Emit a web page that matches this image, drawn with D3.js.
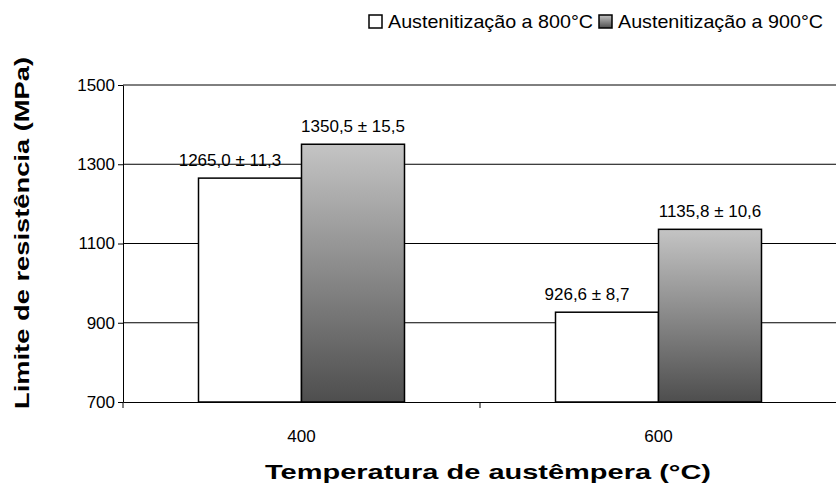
<!DOCTYPE html>
<html><head><meta charset="UTF-8">
<script src="https://cdn.jsdelivr.net/npm/d3@7"></script>
<style>html,body{margin:0;background:#fff}svg{font-family:"Liberation Sans",Arial,sans-serif}</style>
</head><body>
<script>
const categories = ['400', '600']
const series = ['Austenitização a 800°C', 'Austenitização a 900°C']
const values800 = [1265.0, 926.6]
const values900 = [1350.5, 1135.8]
const labels800 = ['1265,0 ± 11,3', '926,6 ± 8,7']
const labels900 = ['1350,5 ± 15,5', '1135,8 ± 10,6']
const yTicks = [700, 900, 1100, 1300, 1500]

const W = 836, H = 488, L = 123, R = 837, T = 85, B = 402
const svg = d3.select('body').append('svg').attr('width', W).attr('height', H)
const defs = svg.append('defs')
const g = defs.append('linearGradient').attr('id', 'gr').attr('x1', 0).attr('y1', 0).attr('x2', 0).attr('y2', 1)
g.append('stop').attr('offset', '0%').attr('stop-color', '#c4c4c4')
g.append('stop').attr('offset', '100%').attr('stop-color', '#4e4e4e')

const y = d3.scaleLinear().domain([700, 1500]).range([B, T])
const x = d3.scaleBand().domain(categories).range([L, R])

// gridlines
svg.append('g').selectAll('line').data(yTicks.slice(1)).join('line')
  .attr('x1', L).attr('x2', R).attr('y1', d => y(d)).attr('y2', d => y(d)).attr('stroke', '#000')

const bw = 103
const data = categories.flatMap((c, i) => [
  {c, s: 0, v: values800[i], lab: labels800[i]},
  {c, s: 1, v: values900[i], lab: labels900[i]}])
svg.append('g').selectAll('rect').data(data).join('rect')
  .attr('x', d => x(d.c) + x.bandwidth() / 2 + (d.s - 1) * bw)
  .attr('width', bw).attr('y', d => y(d.v)).attr('height', d => B - y(d.v))
  .attr('fill', d => d.s ? 'url(#gr)' : '#fff').attr('stroke', '#000').attr('stroke-width', 1.5)
svg.append('g').selectAll('text').data(data).join('text')
  .attr('x', d => x(d.c) + x.bandwidth() / 2 + (d.s - 0.5) * bw - (d.s ? 0 : 20))
  .attr('y', d => y(d.v) - 12).attr('text-anchor', 'middle').attr('font-size', 17)
  .text(d => d.lab)

// axes
const ya = svg.append('g').attr('transform', `translate(${L},0)`)
  .call(d3.axisLeft(y).tickValues(yTicks).tickFormat(d3.format('d')).tickSize(5).tickSizeOuter(0))
ya.selectAll('text').attr('font-size', 17).attr('font-family', 'Liberation Sans, Arial').attr('fill', '#000')
ya.select('.domain').attr('stroke', '#000')
const xa = svg.append('g').attr('transform', `translate(0,${B})`)
  .call(d3.axisBottom(x).tickSize(0).tickPadding(28))
xa.selectAll('text').attr('font-size', 17).attr('font-family', 'Liberation Sans, Arial').attr('fill', '#000')
xa.select('.domain').attr('stroke', '#000')
svg.append('g').selectAll('line').data([L, (L + R) / 2, R]).join('line')
  .attr('x1', d => d).attr('x2', d => d).attr('y1', B).attr('y2', B + 6).attr('stroke', '#000')

svg.append('text').attr('x', 488).attr('y', 479).attr('text-anchor', 'middle')
  .attr('font-size', 21).attr('font-weight', 'bold').attr('textLength', 446)
  .attr('lengthAdjust', 'spacingAndGlyphs').text('Temperatura de austêmpera (°C)')
svg.append('text').attr('transform', `translate(29,233) rotate(-90)`).attr('text-anchor', 'middle')
  .attr('font-size', 20).attr('font-weight', 'bold').attr('textLength', 352)
  .attr('lengthAdjust', 'spacingAndGlyphs').text('Limite de resistência (MPa)')

// legend
const lg = svg.append('g').selectAll('g').data(series).join('g')
  .attr('transform', (d, i) => `translate(${i ? 599 : 369},16)`)
lg.append('rect').attr('width', 13).attr('height', 13).attr('y', -1)
  .attr('fill', (d, i) => i ? 'url(#gr)' : '#fff').attr('stroke', '#000').attr('stroke-width', 1.5)
lg.append('text').attr('x', 19).attr('y', 12).attr('font-size', 19).attr('textLength', 205)
  .attr('lengthAdjust', 'spacingAndGlyphs').text(d => d)
</script>
</body></html>
